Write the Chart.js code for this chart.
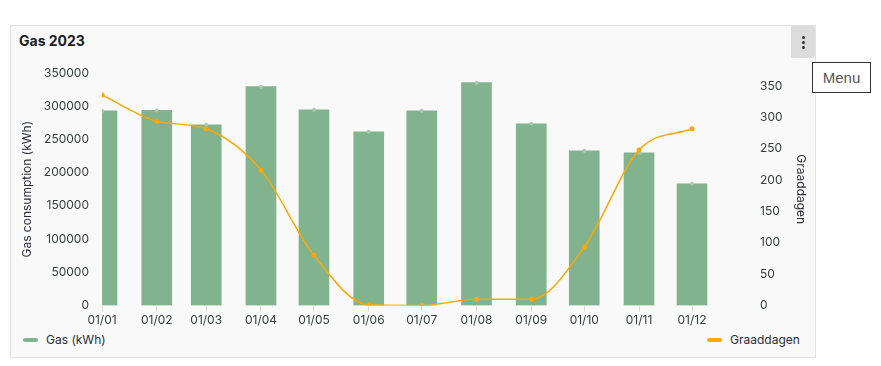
<!DOCTYPE html>
<html>
<head>
<meta charset="utf-8">
<script src="https://cdn.jsdelivr.net/npm/chart.js@4"></script>
<style>
  body { margin: 0; background: #fff; font-family: Inter, "Liberation Sans", sans-serif; }
  .card { position: absolute; left: 10px; top: 25px; width: 806px; height: 333px; box-sizing: border-box;
          border: 1px solid #e2e2e2; background: #f9f9f9; }
  .title { position: absolute; left: 19px; top: 32px; font-size: 14px; font-weight: 700; color: #1c1c28; }
  .menu-btn { position: absolute; left: 791px; top: 26px; width: 24px; height: 32px; background: #dcdcdc; border-radius: 2px; }
  .menu-btn i { position: absolute; left: 11px; width: 3px; height: 3px; border-radius: 50%; background: #333; }
  .menu-tip { position: absolute; left: 812px; top: 62px; width: 59px; height: 31px; box-sizing: border-box;
              border: 1px solid #333; background: #fff; font: 15px "Liberation Sans", sans-serif; color: #555;
              text-align: center; line-height: 29px; }
  .wrap { position: absolute; left: 12px; top: 58px; }
  .legend { position: absolute; top: 332px; font-size: 12px; color: #2a2d3e; display: flex; align-items: center; }
  .legend span.box { display: inline-block; width: 15px; height: 4px; border-radius: 2px; margin-right: 8px; }
</style>
</head>
<body>
<div class="card"></div>
<div class="title">Gas 2023</div>
<div class="menu-btn"><i style="top:10px"></i><i style="top:15px"></i><i style="top:20px"></i></div>
<div class="menu-tip">Menu</div>
<div class="wrap"><canvas id="gas" width="800" height="272"></canvas></div>
<div class="legend" style="left:23px"><span class="box" style="background:#82b38f"></span>Gas (kWh)</div>
<div class="legend" style="left:707px"><span class="box" style="background:#ffa600"></span>Graaddagen</div>
<script>
const monthStarts = ['2023-01-01', '2023-02-01', '2023-03-01', '2023-04-01', '2023-05-01', '2023-06-01',
    '2023-07-01', '2023-08-01', '2023-09-01', '2023-10-01', '2023-11-01', '2023-12-01'];
const tickLabels = ['01/01', '01/02', '01/03', '01/04', '01/05', '01/06', '01/07', '01/08', '01/09', '01/10', '01/11', '01/12'];
const gasKwh = [293200, 293700, 272100, 329400, 294700, 261600, 293200, 335400, 273600, 233000, 230000, 183300];
const graaddagen = [336, 294, 282, 216, 80, 1, 0, 10, 10, 93, 248, 282];
const gasTicks = [0, 50000, 100000, 150000, 200000, 250000, 300000, 350000];
const degreeTicks = [0, 50, 100, 150, 200, 250, 300, 350];

// day of year, so months get their real length on the axis
const dayOf = s => (Date.parse(s) - Date.parse('2023-01-01')) / 864e5;
const days = monthStarts.map(dayOf);

const tickFont = {family: 'Inter', size: 12};
const textColor = '#373d3f';

const ctx = document.getElementById('gas');
new Chart(ctx, {
    data: {
        datasets: [{
            type: 'line',
            label: 'Graaddagen',
            data: days.map((d, i) => ({x: d, y: graaddagen[i]})),
            yAxisID: 'y1',
            borderColor: '#ffa600',
            backgroundColor: '#ffa600',
            borderWidth: 1.5,
            cubicInterpolationMode: 'monotone',
            pointRadius: 2.5,
            pointBorderWidth: 0,
            order: 0
        }, {
            type: 'line',
            label: 'top',
            data: days.map((d, i) => ({x: d, y: gasKwh[i]})),
            yAxisID: 'y',
            showLine: false,
            pointRadius: 2,
            pointBorderWidth: 0,
            backgroundColor: '#a9c9b2',
            order: 1
        }, {
            type: 'bar',
            label: 'Gas (kWh)',
            data: days.map((d, i) => ({x: d, y: gasKwh[i]})),
            yAxisID: 'y',
            backgroundColor: '#82b38f',
            barThickness: 30,
            clip: 0,
            order: 2
        }]
    },
    options: {
        responsive: false,
        animation: false,
        layout: {padding: {top: 15}},
        plugins: {legend: {display: false}, tooltip: {enabled: false}},
        scales: {
            x: {
                type: 'linear',
                min: 0,
                max: 364,
                offset: false,
                afterBuildTicks: s => { s.ticks = days.map(v => ({value: v})); },
                afterFit: s => { s.height = 24.5; },
                ticks: {
                    autoSkip: false,
                    maxRotation: 0,
                    padding: 2,
                    color: textColor,
                    font: tickFont,
                    callback: v => tickLabels[days.indexOf(v)]
                },
                grid: {offset: false, drawOnChartArea: false, tickLength: 6, color: '#dadada'},
                border: {display: false}
            },
            y: {
                position: 'left',
                min: 0,
                max: 350000,
                afterBuildTicks: s => { s.ticks = gasTicks.map(v => ({value: v})); },
                afterFit: s => { s.width = 90; },
                ticks: {padding: 5, color: textColor, font: tickFont, callback: v => String(v)},
                grid: {display: false},
                border: {display: false},
                title: {display: true, text: 'Gas consumption (kWh)', color: '#2a2d3e', font: tickFont, padding: {top: 8, bottom: 4}}
            },
            y1: {
                position: 'right',
                min: 0,
                max: 371,
                afterBuildTicks: s => { s.ticks = degreeTicks.map(v => ({value: v})); },
                afterFit: s => { s.width = 67; },
                ticks: {padding: 7, color: textColor, font: tickFont, callback: v => String(v)},
                grid: {display: false},
                border: {display: false},
                title: {display: true, text: 'Graaddagen', color: '#2a2d3e', font: tickFont, padding: {top: 4, bottom: 4}}
            }
        }
    }
});
</script>
</body>
</html>
